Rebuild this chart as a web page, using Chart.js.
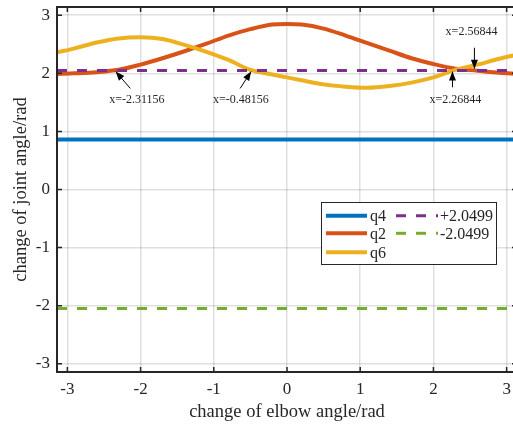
<!DOCTYPE html>
<html>
<head>
<meta charset="utf-8">
<script src="https://cdn.jsdelivr.net/npm/chart.js@4.4.0/dist/chart.umd.min.js"></script>
<style>
  html, body { margin: 0; padding: 0; background: #fff; overflow: hidden; }
  canvas { display: block; }
</style>
</head>
<body>
<canvas id="grafico" width="521" height="428"></canvas>
<script>
// ângulo do cotovelo (rad)
const xs = [-3.1416, -2.9, -2.6, -2.3, -2.0, -1.7, -1.4, -1.1, -0.8, -0.5, -0.2, 0,
            0.2, 0.5, 0.8, 1.1, 1.4, 1.7, 2.0, 2.3, 2.6, 2.9, 3.1416];
const q2 = [1.99, 2.00, 2.02, 2.06, 2.15, 2.26, 2.38, 2.51, 2.65, 2.76, 2.84, 2.85,
            2.84, 2.77, 2.65, 2.52, 2.39, 2.26, 2.16, 2.08, 2.045, 2.01, 1.99];
const q6 = [2.36, 2.43, 2.53, 2.60, 2.62, 2.59, 2.49, 2.37, 2.23, 2.06, 1.98, 1.93,
            1.88, 1.81, 1.77, 1.75, 1.78, 1.84, 1.93, 2.06, 2.15, 2.25, 2.32];
const q4 = 0.86;
const limSup = 2.0499;
const limInf = -2.0499;

const xTicks = [-3, -2, -1, 0, 1, 2, 3];
const yTicks = [-3, -2, -1, 0, 1, 2, 3];

// anotações dos cruzamentos: texto, posição do texto, início e ponta da seta
const anotacoes = [
  { texto: 'x=-2.31156', tx: -2.05, ty: 1.54, de: [-2.14, 1.74], ate: [-2.34, 2.03] },
  { texto: 'x=-0.48156', tx: -0.63, ty: 1.54, de: [-0.64, 1.74], ate: [-0.49, 2.03] },
  { texto: 'x=2.56844',  tx: 2.52,  ty: 2.71, de: [2.56, 2.44],  ate: [2.56, 2.08] },
  { texto: 'x=2.26844',  tx: 2.30,  ty: 1.54, de: [2.26, 1.76],  ate: [2.26, 2.03] }
];

const cores = {
  q4: '#0072BD', q2: '#D95319', q6: '#EDB120', sup: '#7E2F8E', inf: '#77AC30'
};
const fonte = 'Liberation Serif, Times New Roman, serif';
const eixoCor = '#262626';

const pontos = ys => xs.map((x, i) => ({ x: x, y: ys[i] }));
const constante = v => xs.map(x => ({ x: x, y: v }));

// moldura + marcas internas + legenda
const moldura = {
  id: 'moldura',
  afterDraw(chart) {
    const { ctx, chartArea: a, scales } = chart;
    ctx.save();
    ctx.strokeStyle = eixoCor;
    ctx.lineWidth = 1.5;
    xTicks.forEach(v => {
      const px = scales.x.getPixelForValue(v);
      ctx.beginPath();
      ctx.moveTo(px, a.bottom); ctx.lineTo(px, a.bottom - 5);
      ctx.moveTo(px, a.top); ctx.lineTo(px, a.top + 5);
      ctx.stroke();
    });
    yTicks.forEach(v => {
      const py = scales.y.getPixelForValue(v);
      ctx.beginPath();
      ctx.moveTo(a.left, py); ctx.lineTo(a.left + 5, py);
      ctx.moveTo(a.right, py); ctx.lineTo(a.right - 5, py);
      ctx.stroke();
    });
    ctx.lineWidth = 2;
    ctx.strokeRect(a.left, a.top, a.right - a.left, a.bottom - a.top);

    // legenda
    const lx = 321, ly = 202, lw = 175, lh = 62;
    ctx.fillStyle = '#fff';
    ctx.fillRect(lx, ly, lw, lh);
    ctx.lineWidth = 1;
    ctx.strokeRect(lx + 0.5, ly + 0.5, lw, lh);
    const linhas = [215.7, 233.3, 252.3];
    const col1 = chart.data.datasets.slice(0, 3);
    const col2 = chart.data.datasets.slice(3);
    ctx.font = '16px ' + fonte;
    ctx.textBaseline = 'middle';
    ctx.textAlign = 'left';
    col1.forEach((ds, i) => {
      ctx.strokeStyle = ds.borderColor;
      ctx.lineWidth = ds.borderWidth;
      ctx.setLineDash([]);
      ctx.beginPath(); ctx.moveTo(326, linhas[i]); ctx.lineTo(367, linhas[i]); ctx.stroke();
      ctx.fillStyle = eixoCor;
      ctx.fillText(ds.label, 370, linhas[i] + 1);
    });
    col2.forEach((ds, i) => {
      ctx.strokeStyle = ds.borderColor;
      ctx.lineWidth = ds.borderWidth;
      ctx.setLineDash(ds.borderDash);
      ctx.beginPath(); ctx.moveTo(396, linhas[i]); ctx.lineTo(438, linhas[i]); ctx.stroke();
      ctx.setLineDash([]);
      ctx.fillStyle = eixoCor;
      ctx.fillText(ds.label, 440, linhas[i] + 1);
    });
    ctx.restore();
  },
  afterDatasetsDraw(chart) {
    const { ctx, scales } = chart;
    ctx.save();
    ctx.font = '12px ' + fonte;
    ctx.textAlign = 'center';
    ctx.textBaseline = 'middle';
    ctx.strokeStyle = '#000';
    anotacoes.forEach(an => {
      ctx.fillStyle = eixoCor;
      ctx.fillText(an.texto, scales.x.getPixelForValue(an.tx), scales.y.getPixelForValue(an.ty));
      const x0 = scales.x.getPixelForValue(an.de[0]), y0 = scales.y.getPixelForValue(an.de[1]);
      const x1 = scales.x.getPixelForValue(an.ate[0]), y1 = scales.y.getPixelForValue(an.ate[1]);
      const ang = Math.atan2(y1 - y0, x1 - x0);
      ctx.lineWidth = 1;
      ctx.beginPath(); ctx.moveTo(x0, y0); ctx.lineTo(x1, y1); ctx.stroke();
      ctx.fillStyle = '#000';
      ctx.beginPath();
      ctx.moveTo(x1, y1);
      ctx.lineTo(x1 - 9 * Math.cos(ang) + 3.5 * Math.sin(ang), y1 - 9 * Math.sin(ang) - 3.5 * Math.cos(ang));
      ctx.lineTo(x1 - 9 * Math.cos(ang) - 3.5 * Math.sin(ang), y1 - 9 * Math.sin(ang) + 3.5 * Math.cos(ang));
      ctx.closePath();
      ctx.fill();
    });
    ctx.restore();
  }
};

const eixo = (ticks, titulo, tam, tituloPad) => ({
  type: 'linear',
  min: -Math.PI,
  max: Math.PI,
  afterBuildTicks: s => { s.ticks = ticks.map(v => ({ value: v })); },
  afterFit: s => {
    tam(s);
    s.paddingTop = 0; s.paddingBottom = 0; s.paddingLeft = 0; s.paddingRight = 0;
  },
  grid: { color: 'rgba(38,38,38,0.15)', lineWidth: 1.5, drawTicks: false },
  border: { display: false },
  ticks: { color: eixoCor, font: { family: fonte, size: 17 }, padding: 7 },
  title: { display: true, text: titulo, color: eixoCor, font: { family: fonte, size: 18.5 }, padding: tituloPad }
});

new Chart(document.getElementById('grafico').getContext('2d'), {
  type: 'line',
  data: {
    datasets: [
      { label: 'q4', data: constante(q4), borderColor: cores.q4, borderWidth: 4, order: 4 },
      { label: 'q2', data: pontos(q2), borderColor: cores.q2, borderWidth: 4, order: 3 },
      { label: 'q6', data: pontos(q6), borderColor: cores.q6, borderWidth: 4, order: 2 },
      { label: '+2.0499', data: constante(limSup), borderColor: cores.sup, borderWidth: 3, borderDash: [10, 10], order: 1 },
      { label: '-2.0499', data: constante(limInf), borderColor: cores.inf, borderWidth: 3, borderDash: [10, 10], order: 1 }
    ]
  },
  options: {
    responsive: false,
    animation: false,
    layout: { padding: { top: 7, right: 4, left: 0, bottom: 0 } },
    elements: { point: { radius: 0 }, line: { cubicInterpolationMode: 'monotone', borderCapStyle: 'butt' } },
    plugins: { legend: { display: false }, tooltip: { enabled: false } },
    scales: {
      x: eixo(xTicks, 'change of elbow angle/rad', s => { s.height = 56; }, { top: 0, bottom: 5 }),
      y: eixo(yTicks, 'change of joint angle/rad', s => { s.width = 57; }, { top: 10, bottom: 0 })
    }
  },
  plugins: [moldura]
});
</script>
</body>
</html>
